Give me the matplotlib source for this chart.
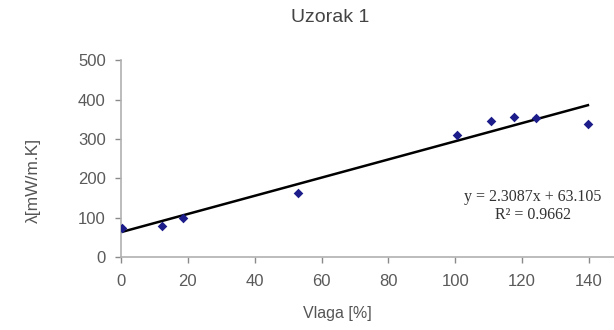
import numpy as np
import matplotlib
matplotlib.use("Agg")
import matplotlib.pyplot as plt

# data
vlaga = [0.3, 12.3, 18.5, 53.1, 100.6, 110.8, 117.5, 124.1, 139.7]
lam = [73, 78, 99, 162, 310, 345, 355, 352, 337]
slope, intercept = 2.3087, 63.105
x_ticks = [0, 20, 40, 60, 80, 100, 120, 140]
y_ticks = [0, 100, 200, 300, 400, 500]

plt.rcParams['font.family'] = ['Liberation Sans', 'DejaVu Sans']

W, H = 614, 330
fig = plt.figure(figsize=(W/100, H/100), dpi=100)
ax = fig.add_axes([121/W, 1 - 257/H, 493/W, 200/H])

xs = np.array([min(vlaga), max(vlaga)])
ax.plot(xs, slope*xs + intercept, color='black', lw=1.8, zorder=2)
ax.scatter(vlaga, lam, marker='D', s=24, color='#1c1c8a', zorder=3, linewidths=0)

ax.set_xlim(0, 147.5)
ax.set_ylim(0, 508)
ax.set_xticks(x_ticks)
ax.set_yticks(y_ticks)
ax.tick_params(colors='#8a8a8a', labelcolor='#5a5a5a', labelsize=12, length=4, width=1)
ax.tick_params(axis='x', pad=8)
ax.tick_params(axis='y', pad=7)
for s in ['top', 'right']:
    ax.spines[s].set_visible(False)
for s in ['left', 'bottom']:
    ax.spines[s].set_color('#b0b0b0')
    ax.spines[s].set_linewidth(1.2)
ax.spines['left'].set_bounds(0, 500)

fig.text(330/W, 1 - 17/H, 'Uzorak 1', fontsize=14, color='#444444',
         ha='center', va='center')
ax.set_xlabel('Vlaga [%]', fontsize=11.5, color='#555555')
ax.xaxis.set_label_coords(216/493, -49/200)
ax.set_ylabel('λ[mW/m.K]', fontsize=12.5, color='#555555')
ax.yaxis.set_label_coords(-80/493, 0.385)

fig.text(533/W, 1 - 197/H, 'y = 2.3087x + 63.105', fontsize=11.5,
         family='Liberation Serif', color='#333333', ha='center', va='center')
fig.text(533/W, 1 - 215/H, 'R² = 0.9662', fontsize=11.5,
         family='Liberation Serif', color='#333333', ha='center', va='center')

fig.savefig('out.png', dpi=100)
